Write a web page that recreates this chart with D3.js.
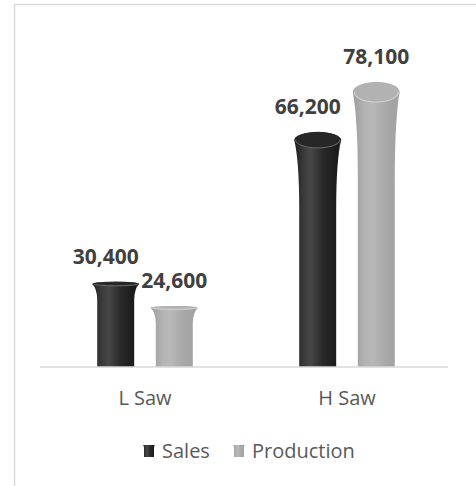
<!DOCTYPE html>
<html>
<head>
<meta charset="utf-8">
<script src="https://cdn.jsdelivr.net/npm/d3@7"></script>
<style>
  body { margin: 0; background: #fff; }
  text { font-family: "Open Sans", sans-serif; }
</style>
</head>
<body>
<svg id="chart" width="476" height="486"></svg>
<script>
// data
var categories = ["L Saw", "H Saw"]
var seriesNames = ["Sales", "Production"]
var sales = [30400, 66200]
var production = [24600, 78100]

var svg = d3.select("#chart")

// frame of the chart area (right / bottom edges fall outside the picture)
svg.append("rect")
  .attr("x", 14.5).attr("y", 4.5)
  .attr("width", 500).attr("height", 520)
  .attr("fill", "#fff")
  .attr("stroke", "#d9d9d9")
  .attr("stroke-width", 1.5)

var baseY = 367
var x0 = d3.scaleBand().domain(categories).range([44, 448])
var x1 = d3.scaleBand().domain(seriesNames).range([0, x0.bandwidth()])
  .paddingInner(0.369).paddingOuter(0.908)
var y = d3.scaleLinear().domain([10000, 80000]).range([baseY, 74])

// gradients
var defs = svg.append("defs")
var grads = {
  Sales: [["0%", "#1e1e1e"], ["18%", "#383838"], ["35%", "#474747"], ["60%", "#2a2a2a"], ["92%", "#191919"], ["100%", "#363636"]],
  Production: [["0%", "#9c9c9c"], ["25%", "#b3b3b3"], ["40%", "#b9b9b9"], ["70%", "#a8a8a8"], ["94%", "#a2a2a2"], ["100%", "#c4c4c4"]]
}
Object.keys(grads).forEach(function(k) {
  var g = defs.append("linearGradient").attr("id", "g" + k)
    .attr("x1", 0).attr("x2", 1).attr("y1", 0).attr("y2", 0)
  grads[k].forEach(function(s) {
    g.append("stop").attr("offset", s[0]).attr("stop-color", s[1])
  })
})
var capFill = { Sales: "#272727", Production: "#b2b2b2" }
var rimLine = { Sales: "#6e6e6e", Production: "#d6d6d6" }

var rows = []
categories.forEach(function(c, i) {
  rows.push({ cat: c, s: "Sales", v: sales[i] })
  rows.push({ cat: c, s: "Production", v: production[i] })
})

var hw = x1.bandwidth() / 2
var flare = 5

function shape(d) {
  var cx = x0(d.cat) + x1(d.s) + hw
  var T = y(d.v)
  var ry = Math.max(2, 2 + (290 - T) * 0.04)
  var dep = 16 + 0.35 * Math.max(0, 282 - T)
  var cy = T + ry
  return { cx: cx, T: T, ry: ry, cy: cy, dep: dep }
}

function bodyPath(d) {
  var p = shape(d)
  var l = p.cx - hw, r = p.cx + hw
  var rx = hw + flare
  return "M" + l + "," + baseY +
    "L" + l + "," + (p.cy + p.dep) +
    "Q" + l + "," + (p.cy + p.dep * 0.3) + " " + (l - flare) + "," + p.cy +
    "A" + rx + "," + p.ry + " 0 0 1 " + (r + flare) + "," + p.cy +
    "Q" + r + "," + (p.cy + p.dep * 0.3) + " " + r + "," + (p.cy + p.dep) +
    "L" + r + "," + baseY + "Z"
}

var bars = svg.append("g").selectAll("g").data(rows).join("g")

bars.append("path")
  .attr("d", bodyPath)
  .attr("fill", function(d) { return "url(#g" + d.s + ")" })

bars.append("ellipse")
  .attr("cx", function(d) { return shape(d).cx })
  .attr("cy", function(d) { return shape(d).cy })
  .attr("rx", hw + flare - 0.5)
  .attr("ry", function(d) { return shape(d).ry - 0.3 })
  .attr("fill", function(d) { return capFill[d.s] })

// front rim highlight
bars.append("path")
  .attr("d", function(d) {
    var p = shape(d)
    var rx = hw + flare - 1.5
    return "M" + (p.cx - rx) + "," + p.cy + "A" + rx + "," + (p.ry - 0.5) + " 0 0 0 " + (p.cx + rx) + "," + p.cy
  })
  .attr("fill", "none")
  .attr("stroke", function(d) { return rimLine[d.s] })
  .attr("stroke-width", 1)

// value labels
bars.append("text")
  .attr("x", function(d) { return shape(d).cx + (d.s == "Sales" ? -10 : 0) })
  .attr("y", function(d) { return y(d.v) - 18 })
  .attr("text-anchor", "middle")
  .style("font-size", "21px")
  .style("font-weight", "bold")
  .attr("fill", "#404040")
  .text(function(d) { return d3.format(",")(d.v) })

// baseline
svg.append("line")
  .attr("x1", 40).attr("x2", 448)
  .attr("y1", baseY).attr("y2", baseY)
  .attr("stroke", "#d9d9d9").attr("stroke-width", 1.5)

// category labels
svg.append("g").selectAll("text").data(categories).join("text")
  .attr("x", function(d) { return x0(d) + x0.bandwidth() / 2 })
  .attr("y", 405)
  .attr("text-anchor", "middle")
  .style("font-size", "20px")
  .attr("fill", "#595959")
  .text(function(d) { return d })

// legend
var legX = [143, 233]
var leg = svg.append("g").selectAll("g").data(seriesNames).join("g")
  .attr("transform", function(d, i) { return "translate(" + legX[i] + ",445)" })
leg.append("path")
  .attr("d", "M1,12 L1,3 Q1,1 0,0 L12,0 Q11,1 11,3 L11,12 Z")
  .attr("fill", function(d) { return "url(#g" + d + ")" })
leg.append("text")
  .attr("x", 19).attr("y", 12.5)
  .style("font-size", "20px")
  .attr("fill", "#595959")
  .text(function(d) { return d })
</script>
</body>
</html>
